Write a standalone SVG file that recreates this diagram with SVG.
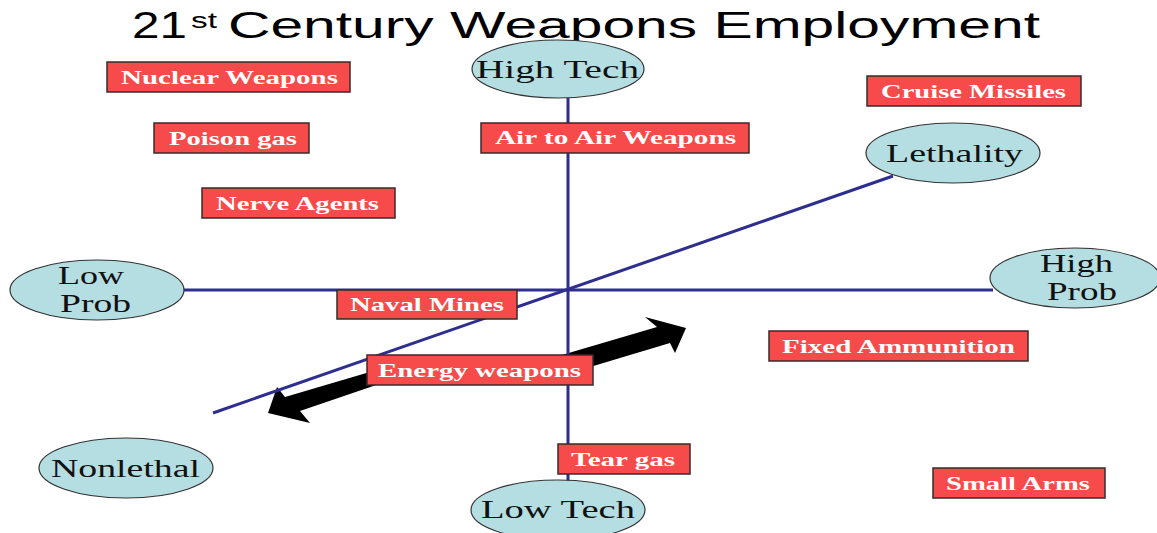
<svg xmlns="http://www.w3.org/2000/svg" width="1157" height="533" viewBox="0 0 1157 533">
<style>
.title{font-family:"Liberation Sans",Arial,sans-serif;fill:#000}
.axis{stroke:#2E2E8F;stroke-width:3;fill:none}
.oval{fill:#B5DEE2;stroke:#333;stroke-width:1.2}
.olab{font-family:"Liberation Serif","Times New Roman",serif;font-size:25px;fill:#111}
.box{fill:#F74B4B;stroke:#3a2a2a;stroke-width:1.5}
.blab{font-family:"Liberation Serif","Times New Roman",serif;font-size:18px;font-weight:bold;fill:#fff}
</style>
<rect width="1157" height="533" fill="#fff"/>
<g id="title">
<text class="title" x="132" y="38" font-size="37" textLength="55" lengthAdjust="spacingAndGlyphs">21</text>
<text class="title" x="191" y="28" font-size="22" textLength="26" lengthAdjust="spacingAndGlyphs">st</text>
<text class="title" x="228" y="38" font-size="37" textLength="812" lengthAdjust="spacingAndGlyphs">Century Weapons Employment</text>
</g>
<g id="connectors">
<polygon id="arrow-energy" fill="#000" points="268,413 277,387 285,397 380,369 555,357 657,327 645,317 686,328 675,353 670,343 590,367 385,382 300,411 310,423"/>
<line class="axis" x1="568" y1="98" x2="568" y2="481"/>
<line class="axis" x1="183" y1="290" x2="993" y2="290"/>
<line class="axis" x1="893" y1="176" x2="213" y2="413"/>
</g>
<g id="node-hightech"><ellipse class="oval" cx="558" cy="69" rx="86" ry="29"/><text class="olab" x="476" y="78" textLength="163" lengthAdjust="spacingAndGlyphs">High Tech</text></g>
<g id="node-lethality"><ellipse class="oval" cx="953" cy="153" rx="87" ry="30"/><text class="olab" x="886" y="162" textLength="137" lengthAdjust="spacingAndGlyphs">Lethality</text></g>
<g id="node-lowprob"><ellipse class="oval" cx="97" cy="290" rx="87" ry="30"/><text class="olab" x="58" y="284" textLength="66" lengthAdjust="spacingAndGlyphs">Low</text><text class="olab" x="60" y="312" textLength="71" lengthAdjust="spacingAndGlyphs">Prob</text></g>
<g id="node-highprob"><ellipse class="oval" cx="1075" cy="278" rx="85" ry="30"/><text class="olab" x="1040" y="272" textLength="73" lengthAdjust="spacingAndGlyphs">High</text><text class="olab" x="1047" y="300" textLength="70" lengthAdjust="spacingAndGlyphs">Prob</text></g>
<g id="node-nonlethal"><ellipse class="oval" cx="126" cy="468" rx="87" ry="30"/><text class="olab" x="51" y="477" textLength="149" lengthAdjust="spacingAndGlyphs">Nonlethal</text></g>
<g id="node-lowtech"><ellipse class="oval" cx="558" cy="510" rx="87" ry="30"/><text class="olab" x="481" y="518" textLength="154" lengthAdjust="spacingAndGlyphs">Low Tech</text></g>
<g id="box-nuclear"><rect class="box" x="107" y="62" width="243" height="30"/><text class="blab" x="121" y="84" textLength="217" lengthAdjust="spacingAndGlyphs">Nuclear Weapons</text></g>
<g id="box-poison"><rect class="box" x="154" y="123" width="155" height="30"/><text class="blab" x="169" y="145" textLength="128" lengthAdjust="spacingAndGlyphs">Poison gas</text></g>
<g id="box-nerve"><rect class="box" x="202" y="188" width="193" height="30"/><text class="blab" x="216" y="210" textLength="163" lengthAdjust="spacingAndGlyphs">Nerve Agents</text></g>
<g id="box-airtoair"><rect class="box" x="481" y="123" width="268" height="30"/><text class="blab" x="495" y="144" textLength="241" lengthAdjust="spacingAndGlyphs">Air to Air Weapons</text></g>
<g id="box-cruise"><rect class="box" x="867" y="76" width="214" height="30"/><text class="blab" x="881" y="98" textLength="185" lengthAdjust="spacingAndGlyphs">Cruise Missiles</text></g>
<g id="box-naval"><rect class="box" x="337" y="290" width="180" height="29"/><text class="blab" x="350" y="311" textLength="154" lengthAdjust="spacingAndGlyphs">Naval Mines</text></g>
<g id="box-energy"><rect class="box" x="367" y="355" width="226" height="30"/><text class="blab" x="378" y="377" textLength="203" lengthAdjust="spacingAndGlyphs">Energy weapons</text></g>
<g id="box-tear"><rect class="box" x="558" y="444" width="132" height="30"/><text class="blab" x="571" y="466" textLength="104" lengthAdjust="spacingAndGlyphs">Tear gas</text></g>
<g id="box-fixed"><rect class="box" x="769" y="331" width="259" height="30"/><text class="blab" x="782" y="353" textLength="233" lengthAdjust="spacingAndGlyphs">Fixed Ammunition</text></g>
<g id="box-small"><rect class="box" x="933" y="468" width="172" height="30"/><text class="blab" x="946" y="490" textLength="144" lengthAdjust="spacingAndGlyphs">Small Arms</text></g>
</svg>
